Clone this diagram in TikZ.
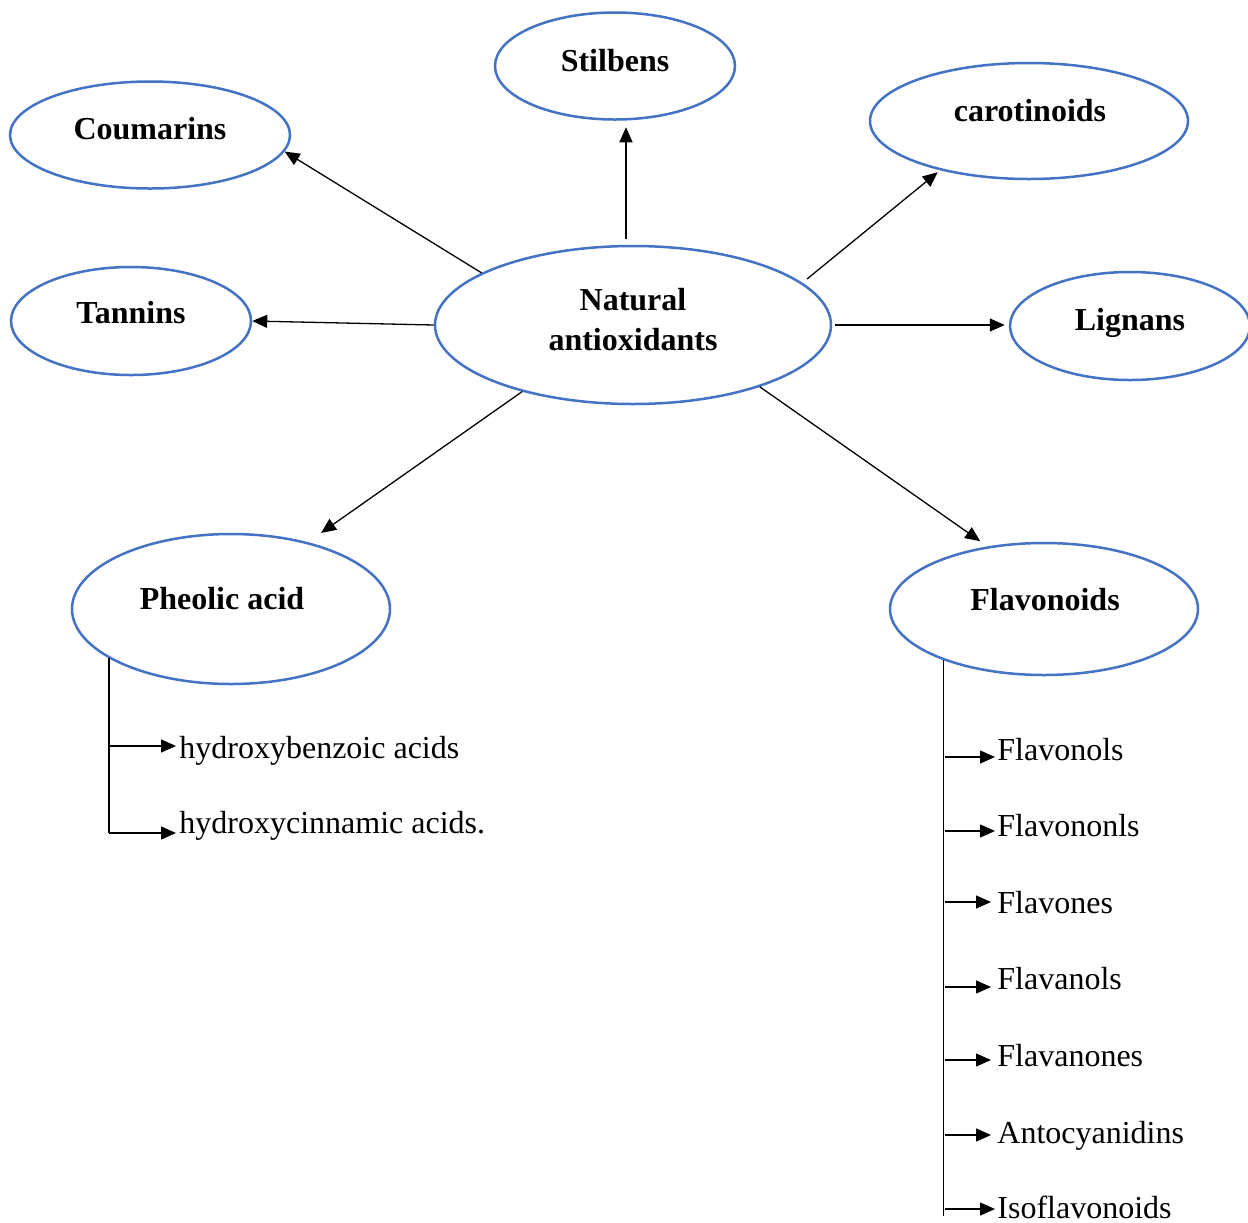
\documentclass[tikz,border=0pt]{standalone}
\usepackage{fontspec}
\setmainfont{Liberation Serif}
\usetikzlibrary{arrows.meta,shapes.geometric,calc}
\definecolor{ellblue}{HTML}{4472C4}
\begin{document}
\begin{tikzpicture}[x=0.5pt,y=-0.5pt,
  oval/.style={ellipse,draw=ellblue,line width=1.25pt,inner sep=0pt},
  btxt/.style={font=\fontsize{16}{20}\selectfont\bfseries,anchor=base,inner sep=0pt},
  itxt/.style={font=\fontsize{16}{20}\selectfont,anchor=base west,inner sep=0pt},
  arr/.style={-{Triangle[length=7.5pt,width=6.5pt]},line width=0.65pt,black},
  trunk/.style={line width=0.65pt,black}]
\fill[white] (0,0) rectangle (1248,1222);
\useasboundingbox (0,0) rectangle (1248,1222);

% ellipses
\node[oval,minimum width=120pt,minimum height=53.5pt] (stil) at (615,66) {};
\node[oval,minimum width=140pt,minimum height=53.5pt] (coum) at (150,135) {};
\node[oval,minimum width=159pt,minimum height=58pt] (caro) at (1029,121) {};
\node[oval,minimum width=120pt,minimum height=54pt] (tan) at (131,321) {};
\node[oval,minimum width=198pt,minimum height=79pt] (nat) at (633,325) {};
\node[oval,minimum width=120pt,minimum height=54pt] (lig) at (1130,326) {};
\node[oval,minimum width=159pt,minimum height=75pt] (phe) at (231,609) {};
\node[oval,minimum width=154pt,minimum height=66pt] (flav) at (1044,609) {};

% ellipse texts
\node[btxt] (stilT) at (615,71) {Stilbens};
\node[btxt] (coumT) at (150,139) {Coumarins};
\node[btxt] (caroT) at (1030,121) {carotinoids};
\node[btxt] (tanT) at (131,323) {Tannins};
\node[btxt] (natT1) at (633,310) {Natural};
\node[btxt] (natT2) at (633,350) {antioxidants};
\node[btxt] (ligT) at (1130,330) {Lignans};
\node[btxt] (pheT) at (222,609) {Pheolic acid};
\node[btxt] (flavT) at (1045,610) {Flavonoids};

% main arrows
\draw[arr,shorten <=3pt,shorten >=3.25pt] (nat.95) -- (nat.95 |- stil.south);
\draw[arr] (nat.161) -- (coum.-7);
\draw[arr,shorten <=3pt,shorten >=1.5pt] (nat.14) -- (caro.209);
\draw[arr] (nat.west) -- (tan.east);
\draw[arr,shorten <=1.5pt,shorten >=2pt] (nat.east) -- (nat.east -| lig.west);
\draw[arr,shorten >=8pt] (nat.211) -- (phe.41);
\draw[arr,shorten >=4.5pt] (nat.-26) -- (flav.132);

% phenolic acid branch
\node[itxt] (hb) at (179,758) {hydroxybenzoic acids};
\node[itxt] (hc) at (179,833) {hydroxycinnamic acids.};
\coordinate (hbA) at ($(hb.base west)+(-3,-12)$);
\coordinate (hcA) at ($(hc.base west)+(-3,0)$);
\draw[trunk] (phe.202) -- (phe.202 |- hcA);
\draw[arr] (hbA -| phe.202) -- (hbA);
\draw[arr] (hcA -| phe.202) -- (hcA);

% flavonoids branch
\node[itxt] (f1) at (997,760) {Flavonols};
\node[itxt] (f2) at (997,836) {Flavononls};
\node[itxt] (f3) at (997,913) {Flavones};
\node[itxt] (f4) at (997,989) {Flavanols};
\node[itxt] (f5) at (997,1066) {Flavanones};
\node[itxt] (f6) at (997,1143) {Antocyanidins};
\node[itxt] (f7) at (997,1218) {Isoflavonoids};
\coordinate (fend) at ($(flav.207)+(0,556)$);
\draw[trunk] (flav.207) -- (fend);
\coordinate (a1) at ($(f1.base west)+(-2,-3)$);
\coordinate (a2) at ($(f2.base west)+(-2,-5)$);
\coordinate (a3) at ($(f3.base west)+(-6,-11)$);
\coordinate (a4) at ($(f4.base west)+(-6,-2)$);
\coordinate (a5) at ($(f5.base west)+(-6,-6)$);
\coordinate (a6) at ($(f6.base west)+(-6,-8)$);
\coordinate (a7) at ($(f7.base west)+(-2,-9)$);
\foreach \a in {a1,a2,a3,a4,a5,a6,a7}
  \draw[arr] ([xshift=1pt]\a -| flav.207) -- (\a);
\end{tikzpicture}
\end{document}
